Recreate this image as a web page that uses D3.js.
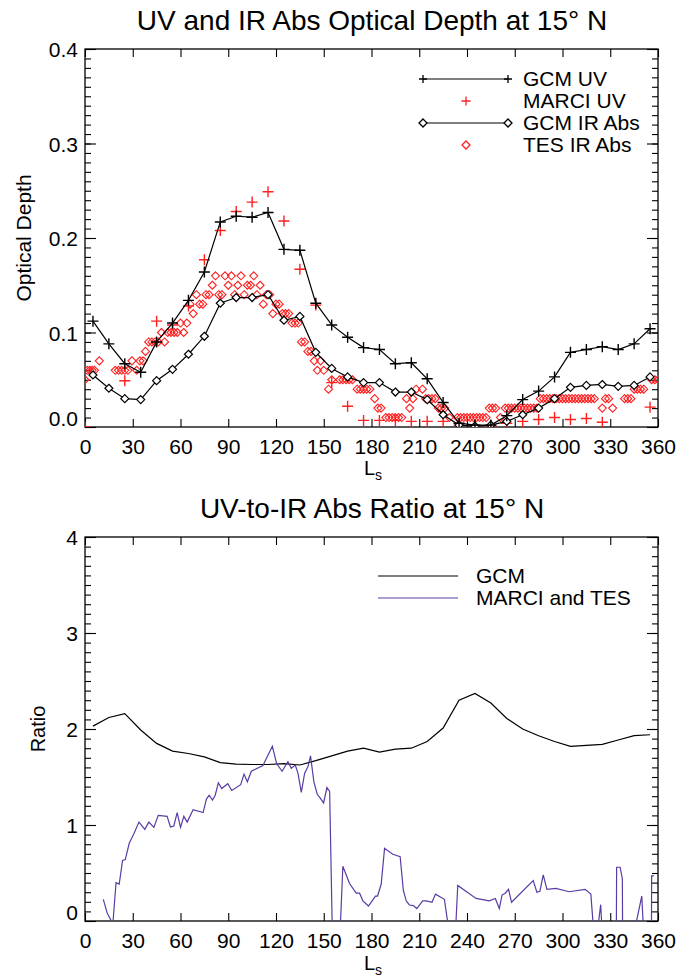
<!doctype html>
<html>
<head>
<style>
  body { margin: 0; background: white; }
  svg { font-family: 'Liberation Sans', Arial, Helvetica, sans-serif; }
  .tick text { font-size: 21px; fill: black; }
  .tick line { stroke: black; stroke-width: 1.1; }
</style>
<script src="https://d3js.org/d3.v7.min.js"></script>
</head>
<body>
<svg id="chart" width="695" height="979"></svg>
<script>
// ---- data: top panel (optical depth) ----
var gcmLs = [5,15,25,35,45,55,65,75,85,95,105,115,125,135,145,155,165,175,
             185,195,205,215,225,235,245,255,265,275,285,295,305,315,325,335,345,355];
var gcmUV = [0.112,0.088,0.067,0.058,0.090,0.110,0.134,0.164,0.217,0.223,0.222,0.227,
             0.188,0.187,0.131,0.108,0.095,0.084,0.082,0.067,0.068,0.051,0.026,0.004,
             0.002,0.002,0.012,0.029,0.038,0.053,0.079,0.082,0.085,0.082,0.088,0.104];
var gcmIR = [0.055,0.041,0.030,0.029,0.049,0.061,0.077,0.096,0.131,0.137,0.137,0.140,
             0.113,0.117,0.079,0.062,0.053,0.047,0.047,0.037,0.037,0.029,0.013,0.002,
             0.001,0.002,0.006,0.013,0.020,0.030,0.042,0.044,0.045,0.043,0.044,0.053];

var marciLs = [0,25,45,55,65,75,85,95,105,115,125,135,145,155,165,175,185,195,205,
               215,225,235,245,255,265,275,285,295,305,315,325,355];
var marciUV = [0.0,0.049,0.112,0.108,0.128,0.177,0.208,0.228,0.238,0.249,0.218,0.167,
               0.129,0.047,0.022,0.007,0.007,0.007,0.006,0.006,0.006,0.002,0.001,0.001,
               0.004,0.006,0.008,0.010,0.008,0.009,0.005,0.021];

var tesLs = [0,1.5,3,4.5,6,9,19,21,23,25,27,29.5,32.5,34.5,36.5,38,40,42,44,46,48,50,
             52,54,56,58,60,62,64,66,68,70,72,74,76,78,80,82,84,86,88,90,92,94,96,98,
             100,102,104,106,108,110,112,114,116,118,120,122,124,126,128,130,132,134,
             136,138,140,142,144,146,148,150,153,155,160,162,164,166,168,171,173,175,
             177,179,182,184,186,189,191,193,195,197,199,202,204,206,208,212,214,216,
             218,220,222,224,226,229,234,236,238,240,242,244,246,248,250,252,254,256,
             258,261,264,266,268,270,272,274,276,278,280,282,284,286,288,290,292,294,
             296,298,300,302,304,306,308,310,312,314,316,318,320,325,327,329,331.5,
             339,341,343,345,347,349,351,356,358,360];
var tesIR = [0.05,0.06,0.06,0.06,0.06,0.07,0.06,0.06,0.06,0.06,0.06,0.07,0.06,0.07,0.07,
             0.08,0.09,0.09,0.09,0.09,0.10,0.09,0.10,0.10,0.10,0.10,0.11,0.10,0.11,0.13,
             0.12,0.14,0.13,0.13,0.14,0.14,0.15,0.16,0.14,0.14,0.16,0.15,0.16,0.14,0.15,
             0.16,0.14,0.15,0.15,0.16,0.14,0.15,0.13,0.14,0.14,0.12,0.13,0.13,0.12,0.12,
             0.12,0.11,0.11,0.11,0.09,0.09,0.08,0.08,0.07,0.06,0.07,0.06,0.04,0.05,0.05,
             0.05,0.05,0.05,0.05,0.04,0.04,0.04,0.04,0.04,0.03,0.02,0.02,0.01,0.01,0.01,
             0.01,0.01,0.01,0.03,0.02,0.03,0.04,0.04,0.03,0.03,0.03,0.03,0.02,0.02,0.02,
             0.01,0.01,0.01,0.01,0.01,0.01,0.01,0.01,0.01,0.01,0.01,0.02,0.02,0.02,0.01,
             0.02,0.02,0.02,0.02,0.02,0.02,0.02,0.02,0.02,0.02,0.02,0.03,0.03,0.03,0.03,
             0.03,0.03,0.03,0.03,0.03,0.03,0.03,0.03,0.03,0.03,0.03,0.03,0.03,0.03,0.02,
             0.03,0.03,0.02,0.03,0.03,0.03,0.04,0.04,0.04,0.04,0.05,0.05,0.05];

// ---- data: bottom panel (ratio) ----
var gcmRatio = [2.03,2.12,2.16,1.99,1.85,1.77,1.745,1.71,1.65,1.635,1.63,1.63,1.64,1.625,
                1.67,1.72,1.77,1.80,1.76,1.79,1.80,1.87,2.01,2.30,2.37,2.27,2.11,2.00,
                1.93,1.87,1.82,1.83,1.84,1.885,1.93,1.94];

var obsLs = [11.5,14,17.5,19.5,21.5,23.6,25.3,27.8,30.7,33.9,37.6,40.1,43.3,46,51.6,53.7,
             55.8,57.9,60,62.1,64.2,67.9,74.2,76.3,78,80.1,81.8,83.8,85.9,89.7,92.2,97.8,
             99.9,102,104.5,111.8,117.7,120.4,123.8,127.5,129.6,132.1,133.8,135.9,138,
             140.1,141.7,143.8,145.9,147.8,149.9,152,153.7,155.6,159.8,162,166.2,170.4,
             172.5,174.6,178.1,182.5,183.8,186.1,188.2,193.4,198,200,201.8,203.8,206.3,
             208.4,212.2,214.3,218,220.2,225.8,229.5,232.5,234.2,245.7,254,257.8,260.3,
             262,264,266.1,268,281.6,283.9,285.8,287.9,290.2,295.9,304.2,314.2,317.8,
             320.5,324,325.5,333.7,334,336.2,337.6,337.9,344,349.8,351.8,355.8,356,357.4];
var obsRatio = [0.226,0.08,-0.03,0.40,0.385,0.63,0.64,0.81,0.91,1.03,0.955,1.03,0.975,1.10,
                1.09,0.98,0.99,1.13,0.975,1.09,1.03,1.16,1.13,1.27,1.31,1.26,1.31,1.44,1.38,
                1.43,1.36,1.42,1.53,1.45,1.56,1.62,1.82,1.64,1.56,1.66,1.59,1.625,1.54,1.34,
                1.54,1.61,1.72,1.45,1.32,1.28,1.23,1.39,1.35,-0.3,-0.3,0.57,0.39,0.29,0.29,
                0.21,0.156,0.26,0.26,0.385,0.757,0.695,0.67,0.32,0.21,0.167,0.16,0.13,0.21,
                0.21,0.195,0.28,0.226,-0.2,-0.2,0.37,0.235,0.21,0.235,0.13,0.27,0.29,0.33,
                0.195,0.42,0.30,0.31,0.48,0.33,0.34,0.305,0.33,0.28,-0.3,0.17,-0.3,-0.6,
                0.56,0.56,0.44,-0.6,-0.2,0.26,-0.4,-0.6,0.47,0.47];

var lsTicks = [0,30,60,90,120,150,180,210,240,270,300,330,360];
var odTicks = [0,0.1,0.2,0.3,0.4];
var ratioTicks = [0,1,2,3,4];

var RED = "#ff2020", PURPLE = "#5a3ca5";

var svg = d3.select("#chart");

function plusPath(s) { return "M" + (-s) + ",0H" + s + "M0," + (-s) + "V" + s; }
function diamondPath(s) { return "M0," + (-s) + "L" + s + ",0L0," + s + "L" + (-s) + ",0Z"; }

function drawFrame(p, x, y, yTicks, minorStep, fmt, id) {
  var g = svg.append("g");
  var minor = d3.range(y.domain()[0], y.domain()[1] + minorStep / 2, minorStep);

  var xb = g.append("g").attr("transform", "translate(0," + p.bottom + ")")
    .call(d3.axisBottom(x).tickValues(lsTicks).tickSize(-8).tickSizeOuter(0));
  xb.selectAll("text").attr("y", 27).attr("dy", null);
  g.append("g").attr("transform", "translate(0," + p.top + ")")
    .call(d3.axisTop(x).tickValues(lsTicks).tickSize(-8).tickSizeOuter(0).tickFormat(""));

  g.append("g").attr("transform", "translate(" + p.left + ",0)")
    .call(d3.axisLeft(y).tickValues(minor).tickSize(-6).tickSizeOuter(0).tickFormat(""));
  var yl = g.append("g").attr("transform", "translate(" + p.left + ",0)")
    .call(d3.axisLeft(y).tickValues(yTicks).tickSize(-11).tickSizeOuter(0).tickFormat(fmt));
  yl.selectAll("text").attr("x", -7).attr("dy", "0.36em");
  // bottom label sits just above the x axis
  yl.selectAll(".tick").filter(function(d) { return d === yTicks[0]; })
    .select("text").attr("dy", "-0.05em");
  g.append("g").attr("transform", "translate(" + p.right + ",0)")
    .call(d3.axisRight(y).tickValues(minor).tickSize(-6).tickSizeOuter(0).tickFormat(""));
  g.append("g").attr("transform", "translate(" + p.right + ",0)")
    .call(d3.axisRight(y).tickValues(yTicks).tickSize(-11).tickSizeOuter(0).tickFormat(""));

  g.selectAll(".domain").remove();
  g.append("rect").attr("x", p.left).attr("y", p.top)
    .attr("width", p.right - p.left).attr("height", p.bottom - p.top)
    .attr("fill", "none").attr("stroke", "black").attr("stroke-width", 1.3);

  svg.append("clipPath").attr("id", id).append("rect")
    .attr("x", p.left).attr("y", p.top)
    .attr("width", p.right - p.left).attr("height", p.bottom - p.top);
}

function title(text, cx, yb) {
  svg.append("text").attr("x", cx).attr("y", yb).attr("text-anchor", "middle")
    .attr("font-size", 28).text(text);
}

function lsLabel(cx, yb) {
  var t = svg.append("text").attr("x", cx).attr("y", yb).attr("text-anchor", "middle")
    .attr("font-size", 20);
  t.append("tspan").text("L");
  t.append("tspan").attr("font-size", 14).attr("dy", 5).text("s");
}

// ---------------- top panel ----------------
var p1 = { left: 85, right: 658, top: 49, bottom: 427 };
var x1 = d3.scaleLinear().domain([0, 360]).range([p1.left, p1.right]);
var y1 = d3.scaleLinear().domain([0, 0.4]).range([p1.bottom, p1.top]);

drawFrame(p1, x1, y1, odTicks, 0.01, d3.format(".1f"), "clip1");
title("UV and IR Abs Optical Depth at 15° N", 372, 30);
lsLabel(373, 475);
svg.append("text").attr("transform", "translate(31,238) rotate(-90)")
  .attr("text-anchor", "middle").attr("font-size", 21).text("Optical Depth");

var plot1 = svg.append("g").attr("clip-path", "url(#clip1)");
var gcmPts = gcmLs.map(function(d, i) { return { ls: d, uv: gcmUV[i], ir: gcmIR[i] }; });

var lineUV = d3.line().x(function(d) { return x1(d.ls); }).y(function(d) { return y1(d.uv); });
var lineIR = d3.line().x(function(d) { return x1(d.ls); }).y(function(d) { return y1(d.ir); });

plot1.selectAll(".tes").data(tesLs).enter().append("path")
  .attr("d", diamondPath(4))
  .attr("transform", function(d, i) { return "translate(" + x1(d) + "," + y1(tesIR[i]) + ")"; })
  .attr("fill", "none").attr("stroke", RED).attr("stroke-width", 1.1);

plot1.selectAll(".marci").data(marciLs).enter().append("path")
  .attr("d", plusPath(5.5))
  .attr("transform", function(d, i) { return "translate(" + x1(d) + "," + y1(marciUV[i]) + ")"; })
  .attr("fill", "none").attr("stroke", RED).attr("stroke-width", 1.4);

plot1.append("path").datum(gcmPts).attr("d", lineIR)
  .attr("fill", "none").attr("stroke", "black").attr("stroke-width", 1.2);
plot1.selectAll(".gir").data(gcmPts).enter().append("path")
  .attr("d", diamondPath(4))
  .attr("transform", function(d) { return "translate(" + x1(d.ls) + "," + y1(d.ir) + ")"; })
  .attr("fill", "white").attr("stroke", "black").attr("stroke-width", 1.2);

plot1.append("path").datum(gcmPts).attr("d", lineUV)
  .attr("fill", "none").attr("stroke", "black").attr("stroke-width", 1.2);
plot1.selectAll(".guv").data(gcmPts).enter().append("path")
  .attr("d", plusPath(5.5))
  .attr("transform", function(d) { return "translate(" + x1(d.ls) + "," + y1(d.uv) + ")"; })
  .attr("fill", "none").attr("stroke", "black").attr("stroke-width", 1.4);

// legend (top)
var leg1 = svg.append("g");
var legRows = [
  { y: 79, text: "GCM UV", kind: "lineplus" },
  { y: 101, text: "MARCI UV", kind: "redplus" },
  { y: 123, text: "GCM IR Abs", kind: "linediamond" },
  { y: 145, text: "TES IR Abs", kind: "reddiamond" }
];
legRows.forEach(function(r) {
  if (r.kind === "lineplus" || r.kind === "linediamond") {
    leg1.append("line").attr("x1", 423).attr("x2", 508).attr("y1", r.y).attr("y2", r.y)
      .attr("stroke", "black").attr("stroke-width", 1.2);
    [423, 508].forEach(function(xx) {
      leg1.append("path")
        .attr("d", r.kind === "lineplus" ? plusPath(4) : diamondPath(4))
        .attr("transform", "translate(" + xx + "," + r.y + ")")
        .attr("fill", "white").attr("stroke", "black").attr("stroke-width", 1.3);
    });
  } else {
    leg1.append("path")
      .attr("d", r.kind === "redplus" ? plusPath(4.5) : diamondPath(4))
      .attr("transform", "translate(466," + r.y + ")")
      .attr("fill", "none").attr("stroke", RED).attr("stroke-width", 1.3);
  }
  leg1.append("text").attr("x", 523).attr("y", r.y + 7).attr("font-size", 21).text(r.text);
});

// ---------------- bottom panel ----------------
var p2 = { left: 85, right: 658, top: 537, bottom: 921 };
var x2 = d3.scaleLinear().domain([0, 360]).range([p2.left, p2.right]);
var y2 = d3.scaleLinear().domain([0, 4]).range([p2.bottom, p2.top]);

drawFrame(p2, x2, y2, ratioTicks, 0.1, d3.format("d"), "clip2");
title("UV-to-IR Abs Ratio at 15° N", 372, 518);
lsLabel(373, 970);
svg.append("text").attr("transform", "translate(45,729) rotate(-90)")
  .attr("text-anchor", "middle").attr("font-size", 20).text("Ratio");

var plot2 = svg.append("g").attr("clip-path", "url(#clip2)");
var ratioLine = d3.line().x(function(d) { return x2(d[0]); }).y(function(d) { return y2(d[1]); });

plot2.append("path").datum(gcmLs.map(function(d, i) { return [d, gcmRatio[i]]; }))
  .attr("d", ratioLine).attr("fill", "none").attr("stroke", "black").attr("stroke-width", 1.2);
plot2.append("path").datum(obsLs.map(function(d, i) { return [d, obsRatio[i]]; }))
  .attr("d", ratioLine).attr("fill", "none").attr("stroke", PURPLE).attr("stroke-width", 1.2);

var leg2 = svg.append("g");
[{ y: 576, text: "GCM", color: "black" }, { y: 598, text: "MARCI and TES", color: PURPLE }]
  .forEach(function(r) {
    leg2.append("line").attr("x1", 378).attr("x2", 458).attr("y1", r.y).attr("y2", r.y)
      .attr("stroke", r.color).attr("stroke-width", 1.2);
    leg2.append("text").attr("x", 476).attr("y", r.y + 7).attr("font-size", 21).text(r.text);
  });
</script>
</body>
</html>
